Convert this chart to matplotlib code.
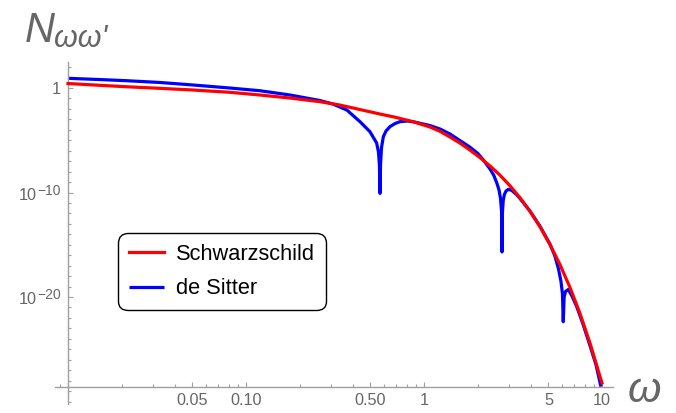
import numpy as np
import matplotlib
matplotlib.use('Agg')
import matplotlib.pyplot as plt
from matplotlib.ticker import FixedLocator, FixedFormatter, NullFormatter
from matplotlib.transforms import offset_copy

# values, N is stored as log10
omega_s = [0.01, 0.0151, 0.0214, 0.0329, 0.0504, 0.0813, 0.120, 0.177, 0.261, 0.337,
           0.437, 0.566, 0.687, 0.867, 1.08, 1.23, 1.40, 1.59, 1.81, 2.06,
           2.35, 2.67, 3.04, 3.46, 3.94, 4.48, 5.10, 5.81, 6.61, 7.52,
           8.56, 10.0]
logN_s = [0.43, 0.26, 0.12, -0.03, -0.19, -0.41, -0.67, -0.96, -1.31, -1.63,
          -2.06, -2.49, -2.79, -3.22, -3.73, -4.14, -4.69, -5.26, -5.93, -6.65,
          -7.46, -8.33, -9.35, -10.49, -11.80, -13.27, -14.97, -16.90, -19.08, -21.56,
          -24.40, -28.23]

omega_ds = [0.01, 0.0151, 0.0214, 0.0329, 0.0504, 0.0813, 0.120, 0.177, 0.261, 0.308,
            0.369, 0.437, 0.497, 0.542, 0.555, 0.562, 0.566, 0.570, 0.577, 0.591,
            0.612, 0.644, 0.687, 0.733, 0.803, 0.867, 1.08, 1.23, 1.40, 1.59,
            1.81, 2.01, 2.14, 2.35, 2.47, 2.57, 2.64, 2.69, 2.73, 2.743,
            2.76, 2.79, 2.83, 2.89, 2.98, 3.12, 3.33, 3.46, 3.94, 4.48,
            5.10, 5.24, 5.44, 5.68, 5.88, 6.00, 6.06, 6.13, 6.24, 6.47,
            6.78, 7.21, 7.82, 8.56, 9.25, 9.87]
logN_ds = [0.93, 0.81, 0.70, 0.53, 0.29, 0.0, -0.26, -0.67, -1.20, -1.53,
           -2.11, -3.22, -4.18, -5.26, -6.12, -7.37, -10.08, -7.37, -5.74, -4.66,
           -4.11, -3.70, -3.40, -3.22, -3.16, -3.22, -3.59, -3.92, -4.40, -5.02,
           -5.65, -6.27, -6.82, -7.75, -8.37, -9.12, -9.76, -10.53, -11.87, -15.69,
           -11.87, -10.72, -10.19, -9.86, -9.69, -9.81, -10.24, -10.57, -11.77, -13.21,
           -14.93, -15.41, -16.08, -17.22, -18.47, -19.71, -22.36, -20.00, -19.47, -19.28,
           -19.90, -20.91, -22.58, -24.64, -26.46, -28.58]

x_major = [0.01, 0.05, 0.1, 0.5, 1, 5, 10]
x_labels = ['', '0.05', '0.10', '0.50', '1', '5', '10']
y_major = [1e0, 1e-10, 1e-20]
y_base = ['1', '10', '10']
y_sup = ['', '\u221210', '\u221220']
series_names = ['Schwarzschild', 'de Sitter']

plt.rcParams['font.family'] = ['Liberation Sans', 'DejaVu Sans']
axcol = '#a0a0a0'
labcol = '#666666'

fig = plt.figure(figsize=(6.76, 4.13), dpi=100)
ax = fig.add_axes([55/676, 1-403.6/413, 558/676, (403.6-61.9)/413])
ax.set_xscale('log')
ax.set_yscale('log')
ax.set_xlim(10**-2.073, 10**1.062)
ax.set_ylim(10**-30.2, 10**2.5)

ax.plot(omega_s, 10.0**np.array(logN_s), color='#ff0000', lw=2.3, label=series_names[0],
        solid_joinstyle='round', zorder=3)
ax.plot(omega_ds, 10.0**np.array(logN_ds), color='#0000ff', lw=2.3, label=series_names[1],
        solid_joinstyle='round', solid_capstyle='butt', zorder=2)

for s in ['top', 'right']:
    ax.spines[s].set_visible(False)
ax.spines['left'].set_position(('data', 0.01))
ax.spines['bottom'].set_position(('data', 10**-28.64))
for s in ['left', 'bottom']:
    ax.spines[s].set_color(axcol)
    ax.spines[s].set_linewidth(1.0)

x_minor = []
for dec in [0.001, 0.01, 0.1, 1]:
    for k in range(1, 10):
        v = k*dec
        if v not in x_major and 10**-2.073 < v < 10**1.062:
            x_minor.append(v)
y_minor = [10.0**k for k in range(-31, 3) if 10.0**k not in y_major]

ax.xaxis.set_major_locator(FixedLocator(x_major))
ax.xaxis.set_major_formatter(FixedFormatter(x_labels))
ax.xaxis.set_minor_locator(FixedLocator(x_minor))
ax.xaxis.set_minor_formatter(NullFormatter())
ax.yaxis.set_major_locator(FixedLocator(y_major))
ax.yaxis.set_major_formatter(NullFormatter())
ax.yaxis.set_minor_locator(FixedLocator(y_minor))
ax.yaxis.set_minor_formatter(NullFormatter())

ax.tick_params(which='both', direction='in', color=axcol, labelcolor=labcol,
               labelsize=11.7, width=0.8)
ax.tick_params(which='major', length=3.6)
ax.tick_params(which='minor', length=2.2)
ax.tick_params(axis='x', pad=4)

# y labels like 10^-10, superscript a bit bigger than mathtext gives
renderer = fig.canvas.get_renderer()
for val, b, sp in zip(y_major, y_base, y_sup):
    if sp == '':
        ax.text(0.01, val, b, fontsize=11.7, color=labcol, ha='right', va='baseline',
                transform=offset_copy(ax.transData, fig=fig, x=-7, y=-6, units='dots'))
        continue
    t = ax.text(0.01, val, sp, fontsize=10, color=labcol, ha='right', va='baseline',
                transform=offset_copy(ax.transData, fig=fig, x=-7, y=-2.3, units='dots'))
    w = t.get_window_extent(renderer).width
    ax.text(0.01, val, b, fontsize=11.7, color=labcol, ha='right', va='baseline',
            transform=offset_copy(ax.transData, fig=fig, x=-7.3-w, y=-7.3, units='dots'))

# axis labels, Mathematica style
fig.text(25/676, 1-41.7/413, 'N', fontsize=30, style='italic', color=labcol, va='baseline')
fig.text(54/676, 1-47/413, "\u03c9\u03c9'", fontsize=22, style='italic', color=labcol, va='baseline')
fig.text(628/676, 1-402/413, '\u03c9', fontsize=31, style='italic', color=labcol, va='baseline')

leg = ax.legend(loc='upper left', bbox_to_anchor=(118/676, 1-233/413), bbox_transform=fig.transFigure,
                borderaxespad=0, fontsize=15.7, handlelength=1.6, handletextpad=0.55,
                labelspacing=0.62, borderpad=0.5, frameon=True, fancybox=True)
leg.get_frame().set_edgecolor('black')
leg.get_frame().set_linewidth(1.0)
leg.get_frame().set_alpha(None)
leg.legendPatch.set_boxstyle('round,pad=0,rounding_size=0.45')
for line in leg.get_lines():
    line.set_linewidth(2.3)

fig.savefig('out.png', dpi=100)
